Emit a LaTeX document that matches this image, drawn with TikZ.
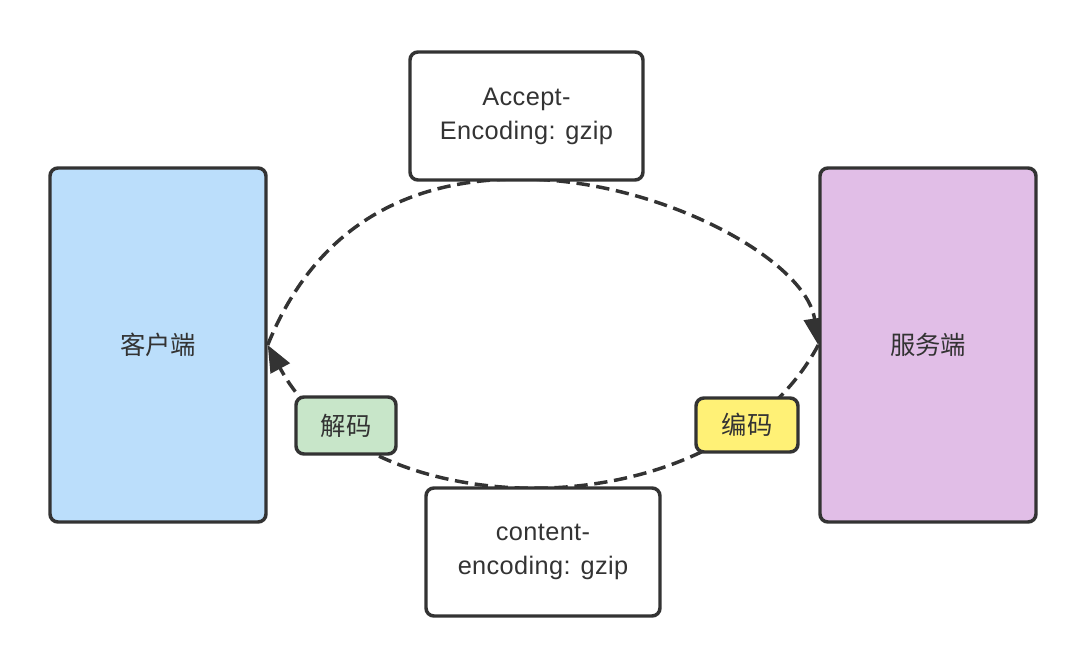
\documentclass[tikz,border=0pt]{standalone}
\usepackage{fontspec}
\setmainfont{Liberation Sans}[LetterSpace=1.5]
\newfontfamily\cjk{Noto Sans CJK SC}
\usetikzlibrary{arrows.meta}
\definecolor{strk}{HTML}{333333}
\definecolor{clientfill}{HTML}{BBDEFB}
\definecolor{serverfill}{HTML}{E1BEE7}
\definecolor{decfill}{HTML}{C8E6C9}
\definecolor{encfill}{HTML}{FFF176}
\pgfdeclarelayer{background}
\pgfsetlayers{background,main}
\begin{document}
\begin{tikzpicture}[x=0.75pt,y=-0.75pt,
  box/.style={draw=strk, line width=2.6pt, rounded corners=6pt, text=strk, align=center, inner sep=0pt},
  bigbox/.style={box, minimum width=162pt, minimum height=265.5pt, font=\cjk\fontsize{19}{23}\selectfont},
  msgbox/.style={box, fill=white, minimum height=96pt, font=\fontsize{19}{25.5}\selectfont},
  tagbox/.style={box, font=\cjk\fontsize{19}{23}\selectfont},
  conn/.style={draw=strk, line width=2.6pt, dash pattern=on 10pt off 5pt},
  tip/.style={-{Triangle[length=20pt,width=16pt]}}
]
\useasboundingbox (0,0) rectangle (1086,666);
\node[bigbox, fill=clientfill] (client) at (158,345) {客户端};
\node[bigbox, fill=serverfill] (server) at (928,345) {服务端};
\node[msgbox, minimum width=174.75pt] (req) at (526.5,116) {Accept-\\Encoding: gzip};
\node[msgbox, minimum width=175.5pt] (resp) at (543,552) {content-\\encoding: gzip};
\node[tagbox, fill=decfill, minimum width=75pt, minimum height=42.75pt] (dec) at (346,425.5) {解码};
\node[tagbox, fill=encfill, minimum width=76.5pt, minimum height=40.5pt] (enc) at (747,425) {编码};
\coordinate (peak) at (520,179);
\begin{pgfonlayer}{background}
\draw[conn, tip] (client.east) .. controls +(37.5,-93) and +(-140,0) .. (peak)
  .. controls +(140,0) and +(-12,-85) .. (server.west);
\draw[conn, tip] (server.west) .. controls +(-100,187) and +(100,187) .. (client.east);
\end{pgfonlayer}
\end{tikzpicture}
\end{document}
